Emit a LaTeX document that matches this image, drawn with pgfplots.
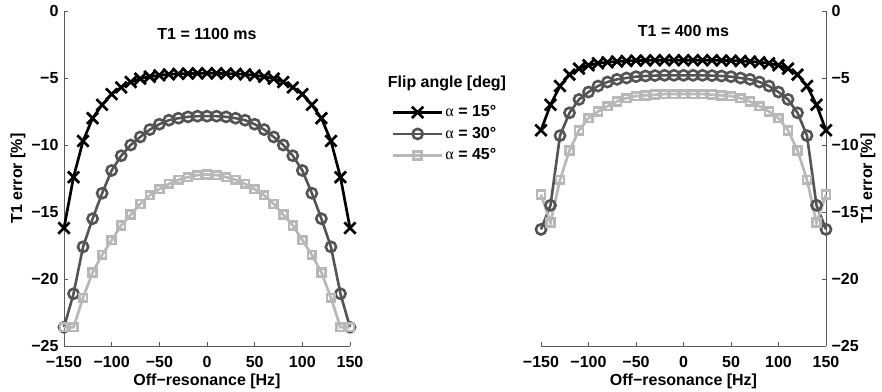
\documentclass[border=0pt]{standalone}
\usepackage{pgfplots}
\usepackage{pgfplotstable}
\pgfplotsset{compat=1.18}
\usepackage{fontspec}
\setmainfont{Liberation Sans}
\newfontfamily\serifgreek{Liberation Serif}
\definecolor{cA}{gray}{0}
\definecolor{cB}{gray}{0.33}
\definecolor{cC}{gray}{0.72}

\pgfplotstableread{
x a b c
-150 -16.2 -23.6 -23.6
-140 -12.4 -21.1 -23.6
-130 -9.7 -17.6 -21.4
-120 -8.0 -15.5 -19.5
-110 -7.0 -13.6 -18.2
-100 -6.2 -11.9 -17.1
-90 -5.7 -10.8 -16.0
-80 -5.3 -10.0 -15.2
-70 -5.05 -9.4 -14.4
-60 -4.9 -8.85 -13.75
-50 -4.8 -8.45 -13.3
-40 -4.73 -8.15 -12.9
-30 -4.69 -8.0 -12.6
-20 -4.67 -7.9 -12.4
-10 -4.65 -7.85 -12.25
0 -4.65 -7.85 -12.2
10 -4.65 -7.85 -12.25
20 -4.67 -7.9 -12.4
30 -4.69 -8.0 -12.6
40 -4.73 -8.15 -12.9
50 -4.8 -8.45 -13.3
60 -4.9 -8.85 -13.75
70 -5.05 -9.4 -14.4
80 -5.3 -10.0 -15.2
90 -5.7 -10.8 -16.0
100 -6.2 -11.9 -17.1
110 -7.0 -13.6 -18.2
120 -8.0 -15.5 -19.5
130 -9.7 -17.6 -21.4
140 -12.4 -21.1 -23.6
150 -16.2 -23.6 -23.6
}\leftdata

\pgfplotstableread{
x a b c
-150 -8.9 -16.3 -13.7
-140 -7.0 -14.5 -15.8
-130 -5.6 -9.3 -12.6
-120 -4.75 -7.6 -10.4
-110 -4.3 -6.6 -8.9
-100 -4.05 -6.05 -8.0
-90 -3.9 -5.6 -7.5
-80 -3.82 -5.3 -7.1
-70 -3.77 -5.1 -6.75
-60 -3.73 -5.0 -6.5
-50 -3.7 -4.9 -6.35
-40 -3.69 -4.85 -6.3
-30 -3.68 -4.82 -6.25
-20 -3.67 -4.8 -6.2
-10 -3.67 -4.8 -6.2
0 -3.67 -4.8 -6.2
10 -3.67 -4.8 -6.2
20 -3.67 -4.8 -6.2
30 -3.68 -4.82 -6.25
40 -3.69 -4.85 -6.3
50 -3.7 -4.9 -6.35
60 -3.73 -5.0 -6.5
70 -3.77 -5.1 -6.75
80 -3.82 -5.3 -7.1
90 -3.9 -5.6 -7.5
100 -4.05 -6.05 -8.0
110 -4.3 -6.6 -8.9
120 -4.75 -7.6 -10.4
130 -5.6 -9.3 -12.6
140 -7.0 -14.5 -15.8
150 -8.9 -16.3 -13.7
}\rightdata

\newcommand{\bigfont}{\fontsize{16bp}{19bp}\selectfont\bfseries}

\begin{document}
\bigfont
\begin{tikzpicture}
\useasboundingbox (0,0) rectangle (882bp,392bp);
\pgfplotsset{
  common/.style={
    scale only axis, height=335bp,
    xmin=-150, xmax=150, ymin=-25, ymax=0,
    xtick={-150,-100,-50,0,50,100,150},
    xticklabels={−150,−100,−50,0,50,100,150},
    ytick={-25,-20,-15,-10,-5,0},
    yticklabels={−25,−20,−15,−10,−5,0},
    tick align=inside, major tick length=4bp,
    axis line style={black!65, line width=0.8bp, -},
    every tick/.style={black!65, line width=0.8bp},
    clip=false,
    tick label style={font=\bigfont},
    x tick label style={yshift=-5bp},
    label style={font=\bigfont},
    xlabel={Off−resonance [Hz]},
    xlabel style={yshift=5bp},
    legend image code/.code={\draw[mark repeat=2,mark phase=2] plot coordinates {(0bp,0bp) (24.5bp,0bp) (49bp,0bp)};},
  },
  s1/.style={cA, line width=2.7bp, mark=x, mark size=8bp, mark options={solid}},
  s2/.style={cB, line width=2.6bp, mark=o, mark size=5.1bp, mark options={solid}},
  s3/.style={cC, line width=2.7bp, mark=square, mark size=3.9bp, mark options={solid}},
}
\begin{axis}[common, width=286bp,
  at={(64bp,46bp)}, anchor=south west,
  axis x line*=bottom, axis y line*=left,
  ylabel={T1 error [\%]},
  ylabel style={yshift=-5bp},
  legend style={at={(1.135,0.73)}, anchor=north west, draw=none, fill=none,
    font=\bigfont, row sep=4bp, nodes={inner sep=2bp}},
  legend cell align=left,
]
\addplot[s1] table[x=x,y=a] {\leftdata};
\addlegendentry{{\serifgreek\mdseries α} = 15°}
\addplot[s2] table[x=x,y=b] {\leftdata};
\addlegendentry{{\serifgreek\mdseries α} = 30°}
\addplot[s3] table[x=x,y=c] {\leftdata};
\addlegendentry{{\serifgreek\mdseries α} = 45°}
\node at (axis cs:0,-1.7) {T1 = 1100 ms};
\node at (rel axis cs:1.339,0.785) {Flip angle [deg]};
\end{axis}

\begin{axis}[common, width=285bp,
  at={(541bp,46bp)}, anchor=south west,
  axis x line*=bottom, axis y line*=right,
]
\addplot[s1] table[x=x,y=a] {\rightdata};
\addplot[s2] table[x=x,y=b] {\rightdata};
\addplot[s3] table[x=x,y=c] {\rightdata};
\node at (axis cs:0,-1.5) {T1 = 400 ms};
\node[rotate=90] at (rel axis cs:1.147,0.5) {T1 error [\%]};
\end{axis}
\end{tikzpicture}
\end{document}
